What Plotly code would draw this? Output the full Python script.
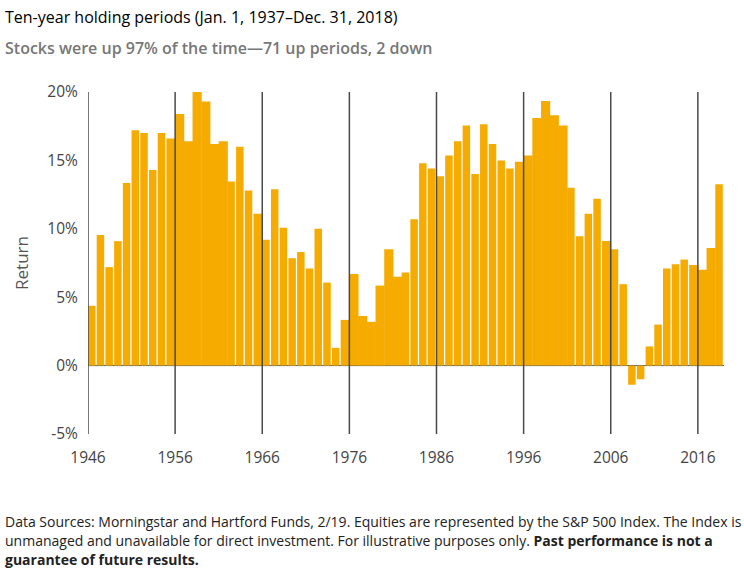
import plotly.graph_objects as go

# Rendement par période de dix ans
years = list(range(1946, 2019))
returns = [
    4.37, 9.54, 7.2, 9.1, 13.35, 17.2, 17.0, 14.3, 17.0, 16.6,
    18.4, 16.4, 20.0, 19.3, 16.2, 16.4, 13.45, 16.0, 12.8, 11.1,
    9.2, 12.9, 10.07, 7.85, 8.3, 7.1, 10.0, 6.07, 1.3, 3.34,
    6.7, 3.63, 3.2, 5.85, 8.5, 6.5, 6.8, 10.7, 14.8, 14.4,
    13.85, 15.35, 16.4, 17.55, 14.0, 17.65, 16.2, 15.0, 14.4, 14.9,
    15.35, 18.1, 19.35, 18.3, 17.55, 13.0, 9.45, 11.1, 12.2, 9.1,
    8.5, 5.95, -1.4, -1.0, 1.4, 3.0, 7.1, 7.4, 7.75, 7.35,
    7.0, 8.6, 13.25,
]
x_ticks = [1946, 1956, 1966, 1976, 1986, 1996, 2006, 2016]
y_ticks = [-5, 0, 5, 10, 15, 20]
y_labels = ['-5%', '0%', '5%', '10%', '15%', '20%']

# Barres collées (sans filet blanc avec la suivante)
touching = [(1955, 1961), (1965, 1965), (1975, 1981), (1995, 2000), (2005, 2005), (2015, 2017)]


def bar_width(year):
    if any(a <= year <= b for a, b in touching):
        return 1.05
    return 0.86


FONT = 'Open Sans'
AMBER = '#F5AB00'

fig = go.Figure()
fig.add_trace(go.Bar(
    x=years, y=returns,
    width=[bar_width(y) for y in years],
    offset=0,
    marker=dict(color=AMBER, line=dict(width=0)),
))

for year in x_ticks:
    fig.add_shape(type='line', xref='x', yref='y', x0=year, x1=year, y0=-5, y1=20,
                  line=dict(color='#4a4a4a', width=1.5), layer='above')

# Ligne du zéro sous les barres : visible seulement dans les filets blancs
fig.add_shape(type='line', xref='paper', yref='y', x0=0, x1=1, y0=0, y1=0,
              line=dict(color='#555', width=1), layer='below')

fig.update_layout(
    width=744, height=570,
    autosize=False,
    margin=dict(l=88, r=20, t=92, b=136),
    paper_bgcolor='white',
    plot_bgcolor='white',
    showlegend=False,
    font=dict(family=FONT, size=15, color='#444'),
    xaxis=dict(
        range=[1946, 2019], tickvals=x_ticks, ticktext=[str(t) for t in x_ticks],
        showgrid=False, zeroline=False, showline=False,
        ticks='outside', ticklen=9, tickcolor='rgba(0,0,0,0)',
        tickfont=dict(family=FONT, size=15.5, color='#444'),
    ),
    yaxis=dict(
        range=[-5, 20], tickvals=y_ticks, ticktext=y_labels,
        showgrid=False, zeroline=False,
        showline=False, ticks='outside', ticklen=6, tickcolor='rgba(0,0,0,0)',
        tickfont=dict(family=FONT, size=15.5, color='#444'),
        title=dict(text='Return', font=dict(family=FONT, size=17, color='#555'), standoff=14),
    ),
)

# Titres et note de bas de page
texts = [
    ('Ten-year holding periods (Jan. 1, 1937–Dec. 31, 2018)', 3, 17, 16, '#000', 400),
    ('Stocks were up 97% of the time—71 up periods, 2 down', 3, 48, 16, '#777', 600),
    ('Data Sources: Morningstar and Hartford Funds, 2/19. Equities are represented by the S&P 500 Index. The Index is',
     3, 521, 14, '#222', 400),
    ('unmanaged and unavailable for direct investment. For illustrative purposes only. <b>Past performance is not a</b>',
     3, 540, 14, '#222', 400),
    ('<b>guarantee of future results.</b>', 3, 559, 14, '#222', 400),
]
for text, px_x, px_y, size, color, weight in texts:
    fig.add_annotation(text=text, xref='paper', yref='paper',
                       x=(px_x - 88) / 636, y=(434 - px_y) / 342,
                       xanchor='left', yanchor='middle', showarrow=False, align='left',
                       font=dict(family=FONT, size=size, color=color, weight=weight))

# La page garde sinon la marge de 8 px du navigateur
fig.write_html('out.html', config={'displayModeBar': False},
               post_script="document.body.style.margin = '0';")
